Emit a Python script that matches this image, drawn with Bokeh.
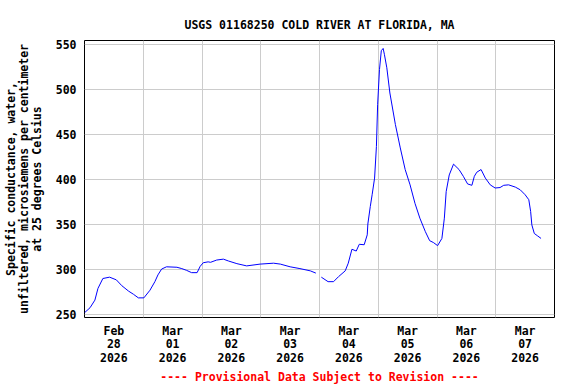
import numpy as np
import pandas as pd
from bokeh.plotting import figure
from bokeh.models import Range1d, FixedTicker, DatetimeTickFormatter, Title
from bokeh.embed import file_html
from bokeh.resources import INLINE

# ---- data (15-min record; gap late Mar 03) ----
times = [
    "2026-02-28 00:00", "2026-02-28 02:15", "2026-02-28 04:15", "2026-02-28 05:30",
    "2026-02-28 07:30", "2026-02-28 10:15", "2026-02-28 13:00", "2026-02-28 15:15",
    "2026-02-28 18:00", "2026-02-28 20:00", "2026-02-28 22:00", "2026-03-01 00:15",
    "2026-03-01 02:45", "2026-03-01 04:45", "2026-03-01 06:00", "2026-03-01 07:30",
    "2026-03-01 09:30", "2026-03-01 13:45", "2026-03-01 15:45", "2026-03-01 17:45",
    "2026-03-01 19:45", "2026-03-01 22:00", "2026-03-01 23:15", "2026-03-02 00:30",
    "2026-03-02 02:30", "2026-03-02 03:30", "2026-03-02 06:00", "2026-03-02 08:45",
    "2026-03-02 10:45", "2026-03-02 14:15", "2026-03-02 18:15", "2026-03-02 23:45",
    "2026-03-03 05:15", "2026-03-03 08:00", "2026-03-03 12:00", "2026-03-03 16:00",
    "2026-03-03 20:15", "2026-03-03 22:30",
    "2026-03-03 23:30",
    "2026-03-04 00:45", "2026-03-04 03:30", "2026-03-04 05:45", "2026-03-04 07:45",
    "2026-03-04 10:30", "2026-03-04 11:45", "2026-03-04 13:15", "2026-03-04 15:00",
    "2026-03-04 16:15", "2026-03-04 18:15", "2026-03-04 19:30", "2026-03-04 19:45",
    "2026-03-04 20:45", "2026-03-04 21:30", "2026-03-04 22:30", "2026-03-04 23:15",
    "2026-03-04 23:45", "2026-03-05 00:30", "2026-03-05 01:15", "2026-03-05 02:00",
    "2026-03-05 02:30", "2026-03-05 03:30", "2026-03-05 04:45", "2026-03-05 07:00",
    "2026-03-05 09:00", "2026-03-05 11:00", "2026-03-05 13:00", "2026-03-05 15:00",
    "2026-03-05 17:00", "2026-03-05 19:15", "2026-03-05 21:00", "2026-03-05 22:30",
    "2026-03-06 00:15", "2026-03-06 02:00", "2026-03-06 03:00", "2026-03-06 03:45",
    "2026-03-06 05:00", "2026-03-06 06:45", "2026-03-06 09:00", "2026-03-06 10:45",
    "2026-03-06 12:30", "2026-03-06 14:15", "2026-03-06 15:15", "2026-03-06 16:15",
    "2026-03-06 18:00", "2026-03-06 19:45", "2026-03-06 21:45", "2026-03-06 23:45",
    "2026-03-07 01:45", "2026-03-07 03:15", "2026-03-07 05:15", "2026-03-07 08:00",
    "2026-03-07 10:00", "2026-03-07 12:00", "2026-03-07 13:30", "2026-03-07 14:15",
    "2026-03-07 14:45", "2026-03-07 15:45", "2026-03-07 17:00", "2026-03-07 18:30",
]
conductance = [
    252, 257.5, 266, 279,
    290, 291.5, 288.5, 282,
    276, 272.5, 268.5, 268.5,
    277, 286.5, 294, 300.5,
    303, 302.5, 301, 299,
    296.5, 296.5, 303.5, 307.5,
    308.5, 308, 310.5, 311.5,
    309.5, 306.5, 304, 306,
    307, 306, 303, 301,
    298.5, 296,
    np.nan,
    291.5, 286.5, 286.5, 292,
    298.5, 307, 322.5, 320.5,
    328, 327.5, 338.5, 350.5,
    370, 383, 401.5, 436.5,
    483, 522, 543, 545.5,
    539, 524, 496, 461,
    435, 411, 394, 373.5,
    357, 342, 332, 330,
    326.5, 334.5, 357, 386.5,
    405, 417, 411, 403.5,
    395, 393.5, 403.5, 408,
    411, 401.5, 394, 390.5,
    391, 393.5, 394, 391.5,
    388.5, 383, 377.5, 364.5,
    349.5, 340, 337.5, 334.5,
]
y_ticks = [250, 300, 350, 400, 450, 500, 550]
day_starts = ["2026-03-01", "2026-03-02", "2026-03-03", "2026-03-04",
              "2026-03-05", "2026-03-06", "2026-03-07"]
label_days = ["2026-02-28", "2026-03-01", "2026-03-02", "2026-03-03",
              "2026-03-04", "2026-03-05", "2026-03-06", "2026-03-07"]
x_start, x_end = "2026-02-28 00:00", "2026-03-08 00:00"
title_text = "USGS 01168250 COLD RIVER AT FLORIDA, MA"
y_title = "Specific conductance, water,\nunfiltered, microsiemens per centimeter\nat 25 degrees Celsius"
footer = "---- Provisional Data Subject to Revision ----"

FONT = "DejaVu Sans Mono"
FS = "11.5px"

def ms(s):
    return pd.Timestamp(s).value / 1e6

t = pd.to_datetime(times)

p = figure(width=576, height=384, output_backend="svg", toolbar_location=None,
           x_axis_type="datetime",
           x_range=Range1d(pd.Timestamp(x_start), pd.Timestamp(x_end)),
           y_range=Range1d(246.7, 554.3),
           min_border_left=84, min_border_right=22, min_border_top=40,
           min_border_bottom=67)

p.line(t, conductance, line_color="#0000ff", line_width=1)

p.title.text = title_text
p.title.text_font = FONT
p.title.text_font_size = FS
p.title.text_font_style = "bold"
p.title.align = "center"
p.title.text_color = "black"
p.title.standoff = 17

p.outline_line_color = "black"
p.outline_line_width = 1
p.background_fill_color = "white"
p.border_fill_color = "white"

# y axis
p.yaxis.ticker = FixedTicker(ticks=y_ticks)
p.yaxis.axis_label = y_title
p.yaxis.axis_label_text_font = FONT
p.yaxis.axis_label_text_font_size = FS
p.yaxis.axis_label_text_font_style = "bold"
p.yaxis.axis_label_text_color = "black"
p.yaxis.axis_label_text_line_height = 0.93
p.yaxis.axis_label_standoff = 9
p.yaxis.major_label_text_font = FONT
p.yaxis.major_label_text_font_size = FS
p.yaxis.major_label_text_font_style = "bold"
p.yaxis.major_label_standoff = 8

# x axis: labels at noon, grid at midnight
p.xaxis.ticker = FixedTicker(ticks=[ms(d) + 12 * 3600 * 1000 for d in label_days])
fmt = "%b\n%d\n%Y"
p.xaxis.formatter = DatetimeTickFormatter(
    milliseconds=fmt, seconds=fmt, minsec=fmt, minutes=fmt, hourmin=fmt,
    hours=fmt, days=fmt, months=fmt, years=fmt)
p.xaxis.major_label_text_font = FONT
p.xaxis.major_label_text_font_size = FS
p.xaxis.major_label_text_font_style = "bold"
p.xaxis.major_label_text_line_height = 0.98
p.xaxis.major_label_standoff = 6

for ax in (p.xaxis, p.yaxis):
    ax.axis_line_color = None
    ax.major_tick_line_color = None
    ax.minor_tick_line_color = None
    ax.major_tick_out = 0
    ax.major_tick_in = 0
    ax.minor_tick_out = 0
    ax.minor_tick_in = 0
    ax.major_label_text_color = "black"

p.xgrid.ticker = FixedTicker(ticks=[ms(d) for d in day_starts])
p.grid.grid_line_color = "#cccccc"
p.grid.grid_line_width = 1

p.add_layout(Title(text=footer, align="center", text_color="red",
                   text_font=FONT, text_font_size=FS, text_font_style="bold",
                   standoff=0), "below")

open("out.html", "w").write(file_html(p, INLINE))
